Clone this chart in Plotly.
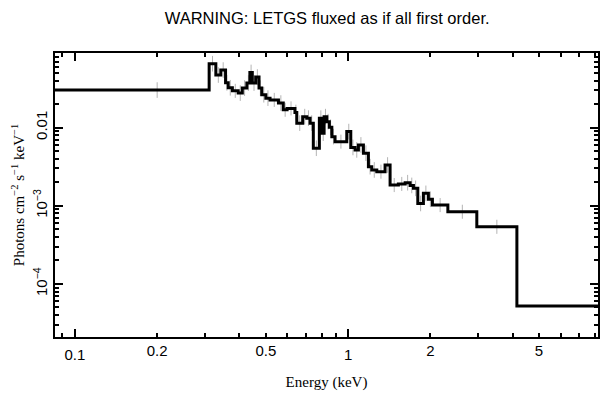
import numpy as np
import plotly.graph_objects as go

# ---- data ----
# bin edges (keV)
edges = [0.08, 0.310, 0.328, 0.342, 0.356, 0.364, 0.377, 0.396, 0.410, 0.426,
         0.437, 0.446, 0.459, 0.472, 0.483, 0.500, 0.518, 0.556, 0.579, 0.598,
         0.639, 0.649, 0.682, 0.706, 0.726, 0.746, 0.785, 0.805, 0.817, 0.836,
         0.854, 0.872, 0.896, 0.989, 1.023, 1.061, 1.091, 1.138, 1.187, 1.221,
         1.274, 1.366, 1.425, 1.528, 1.618, 1.687, 1.735, 1.800, 1.887, 1.968,
         2.036, 2.319, 2.960, 4.150, 20.0]
# flux per bin (photons cm^-2 s^-1 keV^-1)
flux = [0.0302, 0.0656, 0.0470, 0.0544, 0.0374, 0.0323, 0.0295, 0.0276, 0.0320,
        0.0371, 0.0507, 0.0371, 0.0443, 0.0320, 0.0263, 0.0238, 0.0226, 0.0206,
        0.0169, 0.0176, 0.0156, 0.0114, 0.0138, 0.0132, 0.0114, 0.00544, 0.0132,
        0.00848, 0.0138, 0.0119, 0.0101, 0.00766, 0.00661, 0.00889, 0.00557,
        0.00518, 0.00600, 0.00470, 0.00316, 0.00287, 0.00273, 0.00332, 0.00184,
        0.00190, 0.00197, 0.00182, 0.00167, 0.00107, 0.00144, 0.00121, 0.00102,
        0.000838, 0.000538, 5.22e-5]
# error bar half-length (dex) per bin
err_dex = [0.10, 0.10, 0.10, 0.10, 0.10, 0.10, 0.09, 0.10, 0.10, 0.10,
           0.10, 0.10, 0.10, 0.10, 0.10, 0.10, 0.09, 0.10, 0.09, 0.09,
           0.10, 0.10, 0.10, 0.10, 0.10, 0.10, 0.10, 0.10, 0.10, 0.10,
           0.10, 0.10, 0.09, 0.10, 0.10, 0.10, 0.10, 0.10, 0.10, 0.10,
           0.09, 0.10, 0.09, 0.09, 0.10, 0.10, 0.10, 0.10, 0.10, 0.10,
           0.09, 0.09, 0.09, 0.09]
# error bar energies (first bin's bar sits at 0.2 keV, last is off-scale)
err_energy = [0.2] + [float(np.sqrt(a * b)) for a, b in zip(edges[1:-1], edges[2:])]

x_major = [0.1, 1]
x_labels = [0.2, 0.5, 2, 5]
y_major = [1e-4, 1e-3, 1e-2]
y_major_text = ["10<sup>\u22124</sup>", "10<sup>\u22123</sup>", "0.01"]

title_text = "WARNING: LETGS fluxed as if all first order."
x_title = "Energy (keV)"
y_title = "Photons cm<sup>\u22122</sup> s<sup>\u22121</sup> keV<sup>\u22121</sup>"

# ---- figure ----
ex, ey = [], []
for e, f, d in zip(err_energy, flux, err_dex):
    ex += [e, e, None]
    ey += [f / 10 ** d, f * 10 ** d, None]

fig = go.Figure()
fig.add_trace(go.Scatter(x=ex, y=ey, mode="lines",
                         line=dict(color="#b4b4b4", width=1),
                         hoverinfo="skip", showlegend=False))
fig.add_trace(go.Scatter(x=edges, y=flux + [flux[-1]], mode="lines",
                         line=dict(color="black", width=3, shape="hv"),
                         showlegend=False))
fig.add_trace(go.Scatter(x=[1], y=[1e-3], xaxis="x2", mode="markers",
                         marker=dict(opacity=0), hoverinfo="skip",
                         showlegend=False))

xr = [-1.073, 0.915]
yr = [-4.679, -1.046]
x_minor = [0.09] + [d * 0.1 for d in range(2, 10)] + [d * 1.0 for d in range(2, 9)]
y_minor = [d * 10.0 ** p for p in (-5, -4, -3, -2) for d in range(2, 10)]

tickfont = dict(family="Liberation Sans, Arial, sans-serif", size=15, color="black")
serif = dict(family="Liberation Serif, Times New Roman, serif", size=15, color="black")

# page body has an 8 px margin, so the figure is sized/offset to compensate
fig.update_layout(
    width=601, height=391, autosize=False,
    margin=dict(l=47, r=11, t=45, b=62),
    paper_bgcolor="white", plot_bgcolor="white",
    title=dict(text=title_text, x=0.531, xanchor="center", xref="container",
               y=0.974, yanchor="middle", yref="container", automargin=False,
               font=dict(family="Liberation Sans, Arial, sans-serif", size=16.5,
                         color="black")),
    xaxis=dict(type="log", range=xr, tickmode="array", tickvals=x_major,
               ticktext=["0.1", "1"], ticks="inside", ticklen=8, tickwidth=1.5,
               tickcolor="black", showline=True, linecolor="black", linewidth=2,
               mirror="ticks", showgrid=False, zeroline=False, tickfont=tickfont,
               automargin=False, ticklabelstandoff=3,
               minor=dict(tickvals=x_minor, ticks="inside", ticklen=4, tickwidth=1.5,
                          tickcolor="black", showgrid=False),
               title=dict(text=x_title, font=serif, standoff=14)),
    xaxis2=dict(type="log", range=xr, overlaying="x", side="bottom", anchor="y",
                tickmode="array", tickvals=x_labels, ticktext=["0.2", "0.5", "2", "5"],
                ticks="", showline=False, showgrid=False, zeroline=False,
                automargin=False, tickfont=tickfont, ticklabelstandoff=3),
    yaxis=dict(type="log", range=yr, tickmode="array", tickvals=y_major,
               ticktext=y_major_text, tickangle=-90, ticks="inside", ticklen=8,
               tickwidth=1.5, tickcolor="black", showline=True, linecolor="black",
               linewidth=2, mirror="ticks", showgrid=False, zeroline=False,
               tickfont=tickfont, automargin=False,
               minor=dict(tickvals=y_minor, ticks="inside", ticklen=4, tickwidth=1.5,
                          tickcolor="black", showgrid=False),
               title=dict(text=y_title, font=serif, standoff=2)),
)

fig.write_html("out.html")
